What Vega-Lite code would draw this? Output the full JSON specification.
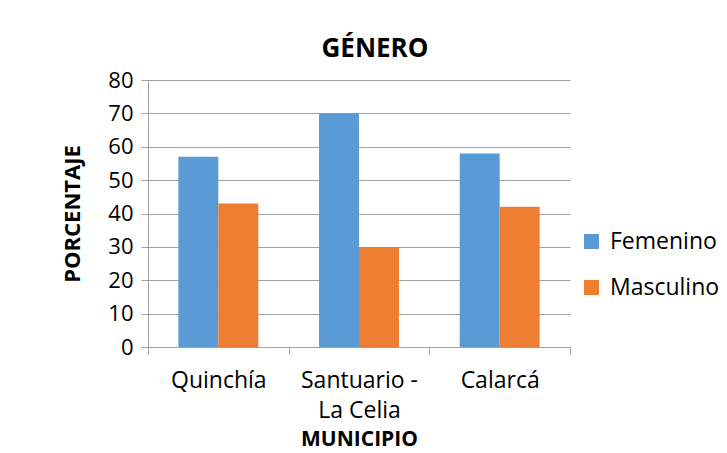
{
  "$schema": "https://vega.github.io/schema/vega-lite/v6.json",
  "width": 422,
  "height": 267,
  "autosize": {"type": "none"},
  "padding": {"left": 148, "top": 80, "right": 157, "bottom": 106},
  "background": "white",
  "title": {"text": "GÉNERO", "font": "Open Sans", "fontSize": 26, "fontWeight": "bold", "color": "#000000", "anchor": "middle", "frame": "group", "dx": 16, "offset": 7},
  "data": {"values": [
    {"municipio": "Quinchía", "genero": "Femenino", "valor": 57},
    {"municipio": "Quinchía", "genero": "Masculino", "valor": 43},
    {"municipio": "Santuario - La Celia", "genero": "Femenino", "valor": 70},
    {"municipio": "Santuario - La Celia", "genero": "Masculino", "valor": 30},
    {"municipio": "Calarcá", "genero": "Femenino", "valor": 58},
    {"municipio": "Calarcá", "genero": "Masculino", "valor": 42}
  ]},
  "mark": {"type": "bar"},
  "encoding": {
    "x": {
      "field": "municipio", "type": "nominal", "sort": ["Quinchía", "Santuario - La Celia", "Calarcá"],
      "scale": {"paddingInner": 0, "paddingOuter": 0},
      "axis": {
        "title": "MUNICIPIO", "titleFont": "Open Sans", "titleFontSize": 21, "titleFontWeight": "bold", "titleColor": "#000000", "titlePadding": 6,
        "labelFont": "Open Sans", "labelFontSize": 23, "labelColor": "#000000", "labelAngle": 0, "labelPadding": 15, "labelLineHeight": 30,
        "labelExpr": "datum.label == 'Santuario - La Celia' ? ['Santuario -', 'La Celia'] : datum.label",
        "tickBand": "extent", "tickSize": 7, "tickColor": "#a0a0a0", "domainColor": "#a0a0a0", "grid": false
      }
    },
    "xOffset": {"field": "genero", "type": "nominal", "sort": ["Femenino", "Masculino"], "scale": {"paddingInner": 0, "paddingOuter": 0.76}},
    "y": {
      "field": "valor", "type": "quantitative",
      "scale": {"domain": [0, 80], "nice": false},
      "axis": {
        "title": "PORCENTAJE", "titleFont": "Open Sans", "titleFontSize": 22, "titleFontWeight": "bold", "titleColor": "#000000", "titlePadding": 23,
        "labelFont": "Open Sans", "labelFontSize": 22, "labelColor": "#000000", "labelPadding": 8,
        "values": [0, 10, 20, 30, 40, 50, 60, 70, 80],
        "tickSize": 7, "tickColor": "#a0a0a0", "domainColor": "#a0a0a0", "grid": true, "gridColor": "#a0a0a0"
      }
    },
    "color": {
      "field": "genero", "type": "nominal", "sort": ["Femenino", "Masculino"],
      "scale": {"domain": ["Femenino", "Masculino"], "range": ["#5B9BD5", "#ED7D31"]},
      "legend": {
        "title": null, "orient": "none", "legendX": 432, "legendY": 150, "padding": 0, "symbolType": "square", "symbolSize": 225, "symbolStrokeWidth": 0,
        "labelFont": "Open Sans", "labelFontSize": 23, "labelColor": "#000000", "rowPadding": 22, "labelOffset": 7
      }
    }
  },
  "config": {"view": {"stroke": null}, "axis": {"domainWidth": 1, "tickWidth": 1}}
}
